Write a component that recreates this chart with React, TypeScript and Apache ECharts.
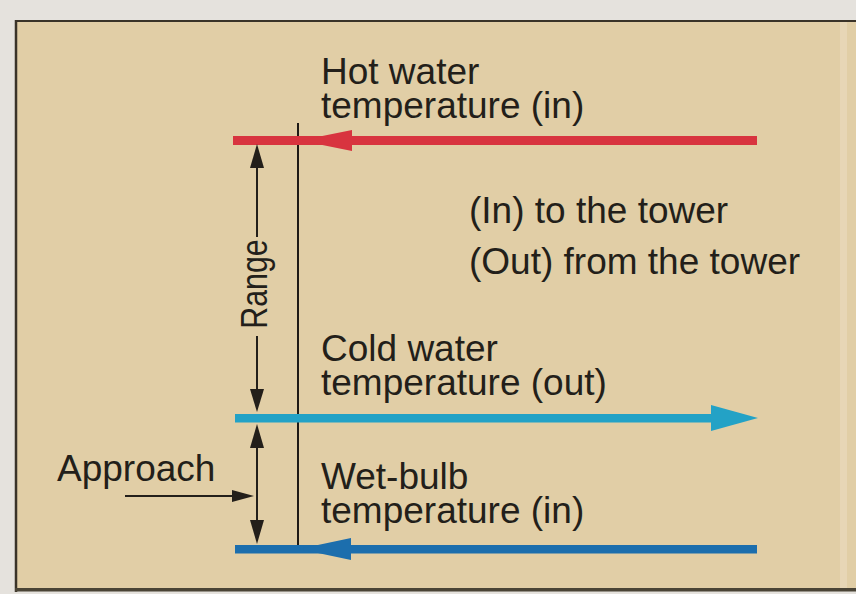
import React, { useEffect, useRef } from "react";
import * as echarts from "echarts";

// Diagram content
const streamTitles = ["Hot water", "Cold water", "Wet-bulb"];
const streamSubtitles = ["temperature (in)", "temperature (out)", "temperature (in)"];
const legendLines = ["(In) to the tower", "(Out) from the tower"];
const dimensionLabels = ["Range", "Approach"];

const W = 856;
const H = 594;
const INK = "#231f1a";
const FONT = "'Liberation Sans', Arial, Helvetica, sans-serif";

function txt(text: string, x: number, y: number, extra: any = {}) {
  return {
    type: "text",
    x,
    y,
    silent: true,
    ...extra,
    style: {
      text,
      fill: INK,
      fontSize: 37,
      lineHeight: 34,
      fontFamily: FONT,
      align: "left",
      verticalAlign: "middle",
      ...(extra.style || {}),
    },
  };
}

function poly(points: number[][], fill: string) {
  return { type: "polygon", silent: true, shape: { points }, style: { fill } };
}

function rect(x: number, y: number, w: number, h: number, fill: string) {
  return { type: "rect", silent: true, shape: { x, y, width: w, height: h }, style: { fill } };
}

function seg(x1: number, y1: number, x2: number, y2: number, lw: number, stroke = INK) {
  return { type: "line", silent: true, shape: { x1, y1, x2, y2 }, style: { stroke, lineWidth: lw } };
}

export default function App() {
  const ref = useRef<HTMLDivElement>(null);
  useEffect(() => {
    if (!ref.current) return;
    const chart = echarts.init(ref.current, null, { renderer: "svg", width: W, height: H });

    const RED = "#d8343f";
    const CYAN = "#23a2c6";
    const BLUE = "#1c6ead";

    const label = (i: number) => streamTitles[i] + "\n" + streamSubtitles[i];

    const elements: any[] = [
      // panel
      rect(15, 20, W - 15, 571, "#e1cea6"),
      rect(840, 21, 7, 568, "#e7d6b6"),
      seg(15, 21, W, 21, 2, "#3a3328"),
      seg(16, 20, 16, 592, 2.5, "#3a3328"),
      rect(15, 588, W - 15, 3.5, "#4a4436"),

      // thin vertical reference line
      seg(298, 123, 298, 553, 2, "#1e1a16"),

      // hot water (red, pointing left)
      rect(233, 136, 524, 9, RED),
      poly([[300, 140.5], [352, 130], [352, 151]], RED),

      // cold water (cyan, pointing right)
      rect(235, 414, 480, 8.5, CYAN),
      poly([[758, 418], [711, 405], [711, 431]], CYAN),

      // wet-bulb (blue, pointing left)
      rect(235, 545, 522, 8.5, BLUE),
      poly([[299, 549], [351, 538], [351, 560]], BLUE),

      // Range double arrow
      seg(257, 160, 257, 237, 2),
      seg(257, 336, 257, 400, 2),
      poly([[257, 144], [250, 168], [264, 168]], INK),
      poly([[257, 412], [250, 389], [264, 389]], INK),

      // Approach double arrow
      seg(257, 440, 257, 530, 2),
      poly([[257, 424], [250, 448], [264, 448]], INK),
      poly([[257, 544], [250, 520], [264, 520]], INK),

      // Approach pointer
      seg(125, 496, 240, 496, 2),
      poly([[254, 496], [232, 490], [232, 502]], INK),

      // texts
      txt(label(0), 321, 88.5),
      txt(legendLines[0], 469, 210),
      txt(legendLines[1], 469, 261),
      txt(label(1), 321, 365.5),
      txt(label(2), 321, 493),
      txt(dimensionLabels[1], 57, 468),
      txt(dimensionLabels[0], 254, 284, {
        rotation: Math.PI / 2,
        scaleX: 0.82,
        style: { align: "center" },
      }),
    ];

    chart.setOption({
      animation: false,
      backgroundColor: "#e5e2dd",
      graphic: { elements },
    });

    return () => chart.dispose();
  }, []);

  return (
    <div
      ref={ref}
      style={{ position: "fixed", left: 0, top: 0, width: W, height: H }}
    />
  );
}
